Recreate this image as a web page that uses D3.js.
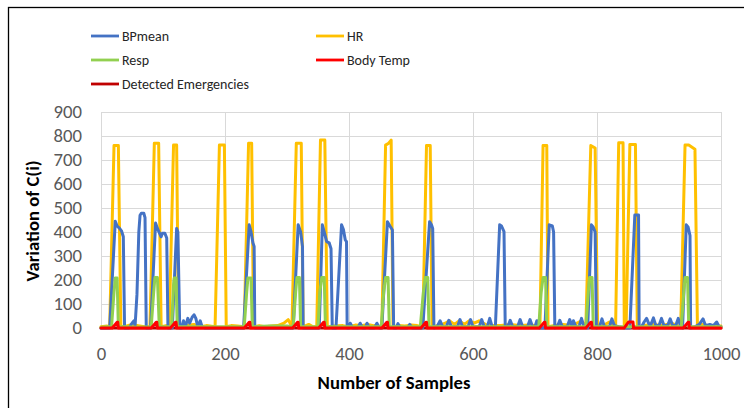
<!DOCTYPE html>
<html><head><meta charset="utf-8">
<script src="https://cdn.jsdelivr.net/npm/d3@7"></script>
<style>body{margin:0;background:#fff}svg{display:block}</style>
</head><body><svg id="c" width="744" height="408"></svg>
<script>
// ---- data: [sample, value] vertices ----
const seriesNames = ["BPmean","HR","Resp","Body Temp","Detected Emergencies"];
const xTicks = [0,200,400,600,800,1000];
const yTicks = [0,100,200,300,400,500,600,700,800,900];

const hr = [[0,5],[10,8],[14,5],[21,760],[28,760],[32,5],[40,8],[50,15],[60,10],[70,5],[79,5],[86,770],[93,770],[97,5],[105,10],[110,5],[117,762],[122,762],[125,5],[135,10],[150,15],[160,5],[170,10],[184,5],[191,762],[199,762],[202,5],[210,10],[220,8],[231,5],[238,770],[243,770],[246,5],[255,10],[265,5],[275,8],[285,10],[295,20],[302,35],[308,5],[315,770],[323,770],[326,5],[335,15],[342,5],[348,5],[354,783],[361,783],[365,5],[375,8],[390,10],[400,5],[410,12],[420,10],[430,15],[440,10],[453,5],[459,762],[464,770],[468,783],[471,5],[480,10],[490,8],[500,12],[510,10],[519,5],[525,760],[531,760],[534,5],[545,10],[555,20],[562,30],[570,15],[578,30],[586,15],[594,30],[602,20],[610,30],[620,15],[630,10],[645,10],[660,15],[675,10],[690,12],[700,10],[708,5],[713,760],[719,760],[721,5],[730,10],[745,15],[760,10],[775,30],[782,5],[790,760],[797,750],[801,5],[810,10],[820,25],[830,5],[835,772],[842,772],[844,5],[847,5],[853,765],[862,765],[865,5],[875,10],[890,15],[905,10],[920,20],[935,5],[942,762],[948,762],[958,745],[962,5],[970,15],[980,10],[990,5],[1000,8]];

const bp = [[0,0],[14,0],[23,445],[26,425],[30,415],[33,405],[36,380],[38,0],[45,0],[50,20],[53,30],[55,10],[58,140],[61,400],[63,470],[65,478],[69,478],[71,460],[73,0],[80,0],[88,437],[91,415],[97,380],[99,395],[103,395],[106,375],[108,0],[115,0],[122,415],[124,400],[127,0],[130,0],[133,30],[136,5],[140,40],[143,20],[147,45],[150,55],[153,40],[156,5],[160,30],[163,5],[168,0],[230,0],[239,430],[242,400],[245,355],[247,340],[248,0],[260,0],[310,0],[318,430],[322,400],[325,339],[326,0],[345,0],[352,0],[357,430],[360,400],[364,360],[368,355],[371,330],[373,0],[379,0],[388,430],[391,410],[394,367],[396,360],[397,0],[400,0],[402,20],[406,0],[414,0],[418,20],[422,0],[426,0],[429,20],[433,0],[441,0],[445,20],[449,0],[453,0],[462,443],[466,425],[470,408],[472,0],[476,0],[479,18],[483,0],[494,0],[498,15],[502,0],[519,0],[530,443],[533,430],[535,415],[537,0],[542,5],[547,30],[551,5],[557,5],[561,32],[565,5],[575,5],[579,35],[583,5],[592,5],[596,35],[600,5],[610,5],[614,35],[618,5],[623,5],[627,40],[631,5],[636,0],[643,430],[646,425],[650,402],[652,0],[656,5],[660,32],[664,5],[672,5],[676,35],[680,5],[688,5],[692,35],[696,5],[700,5],[703,30],[707,0],[716,0],[723,430],[728,425],[730,400],[732,0],[736,5],[740,32],[744,5],[752,5],[756,35],[760,5],[762,30],[766,5],[771,5],[775,40],[779,5],[785,0],[791,430],[794,420],[797,400],[799,0],[804,5],[808,38],[812,5],[820,5],[824,38],[828,10],[835,5],[845,0],[853,0],[861,471],[867,471],[868,0],[872,5],[876,25],[880,40],[884,15],[887,15],[891,42],[895,10],[900,10],[904,40],[908,10],[914,10],[918,38],[922,10],[927,10],[931,40],[935,5],[938,0],[944,430],[947,420],[950,385],[951,0],[958,5],[965,15],[971,38],[975,10],[982,15],[988,10],[993,25],[997,5],[1000,5]];

const resp = [[0,3],[10,5],[17,5],[21,150],[23,208],[26,208],[28,5],[40,5],[60,3],[81,5],[85,150],[87,210],[91,210],[94,5],[105,5],[114,5],[117,180],[118,208],[121,208],[123,5],[150,5],[200,5],[231,5],[235,150],[237,208],[242,208],[244,5],[270,8],[300,8],[310,5],[314,150],[316,210],[320,210],[322,5],[340,5],[350,5],[353,150],[356,210],[360,210],[362,5],[400,5],[452,5],[456,150],[459,210],[463,210],[465,5],[490,5],[515,5],[520,150],[523,210],[527,210],[529,5],[600,5],[706,5],[710,150],[713,210],[717,210],[719,5],[760,5],[782,5],[786,150],[788,210],[792,210],[794,5],[850,5],[936,5],[940,150],[942,210],[946,210],[948,5],[1000,5]];

const temp = [[0,0],[18,0],[22,12],[26,24],[27,24],[28,0],[81,0],[85,12],[89,24],[90,24],[91,0],[112,0],[116,12],[120,24],[121,24],[122,0],[231,0],[235,12],[239,24],[240,24],[241,0],[309,0],[313,12],[317,24],[318,24],[319,0],[351,0],[355,12],[359,24],[360,24],[361,0],[453,0],[457,12],[461,24],[462,24],[463,0],[516,0],[520,12],[524,24],[525,24],[526,0],[707,0],[711,12],[715,24],[716,24],[717,0],[782,0],[786,12],[790,24],[791,24],[792,0],[844,0],[848,15],[851,25],[858,25],[859,0],[939,0],[943,12],[947,24],[948,24],[949,0],[1000,0]];

const emerg = [[0,0],[1000,0]];

// ---- drawing ----
const svg = d3.select("#c");
svg.append("rect").attr("width",744).attr("height",408).attr("fill","#fff");
svg.append("rect").attr("x",8.5).attr("y",7.5).attr("width",800).attr("height",600)
  .attr("fill","none").attr("stroke","#000").attr("stroke-width",1.3);

const x = d3.scaleLinear().domain([0,1000]).range([101,721]);
const y = d3.scaleLinear().domain([0,900]).range([328,112]);
const font = "Carlito, Lato, 'Open Sans', sans-serif";

// gridlines
const g = svg.append("g");
g.selectAll("line.h").data(yTicks).join("line")
  .attr("x1",x(0)).attr("x2",x(1000)).attr("y1",d=>y(d)+0.5).attr("y2",d=>y(d)+0.5)
  .attr("stroke","#d9d9d9").attr("stroke-width",1);
g.selectAll("line.v").data(xTicks).join("line")
  .attr("y1",y(0)).attr("y2",y(900)).attr("x1",d=>x(d)+0.5).attr("x2",d=>x(d)+0.5)
  .attr("stroke","#d9d9d9").attr("stroke-width",1);

// axes (labels only)
const yAxis = d3.axisLeft(y).tickValues(yTicks).tickSize(0).tickPadding(19).tickFormat(d3.format("d"));
svg.append("g").attr("transform",`translate(${x(0)},0)`).call(yAxis)
  .call(a=>a.select(".domain").remove())
  .selectAll("text").attr("font-family",font).attr("font-size",18.7).attr("fill","#595959");
const xAxis = d3.axisBottom(x).tickValues(xTicks).tickSize(0).tickPadding(19).tickFormat(d3.format("d"));
svg.append("g").attr("transform",`translate(0,${y(0)})`).call(xAxis)
  .call(a=>a.select(".domain").remove())
  .selectAll("text").attr("font-family",font).attr("font-size",18.7).attr("fill","#595959");

// axis titles
svg.append("text").attr("transform",`translate(39,221) rotate(-90)`).attr("text-anchor","middle")
  .attr("font-family",font).attr("font-weight","bold").attr("font-size",18.7).attr("fill","#000")
  .text("Variation of C(i)");
svg.append("text").attr("x",394).attr("y",389).attr("text-anchor","middle")
  .attr("font-family",font).attr("font-weight","bold").attr("font-size",18.7).attr("fill","#000")
  .text("Number of Samples");

// lines
const colors = {"BPmean":"#4472C4","HR":"#FFC000","Resp":"#92D050","Body Temp":"#FF0000","Detected Emergencies":"#C00000"};
const line = d3.line().x(d=>x(d[0])).y(d=>y(d[1]));
const draw = [["Detected Emergencies",emerg],["HR",hr],["BPmean",bp],["Resp",resp],["Body Temp",temp]];
const lg = svg.append("g");
draw.forEach(([n,data])=>{
  lg.append("path").datum(data).attr("d",line).attr("fill","none")
    .attr("stroke",colors[n]).attr("stroke-width",3)
    .attr("stroke-linejoin","round").attr("stroke-linecap","round");
});

// legend
const legendPos = [["BPmean",91,36],["HR",316,36],["Resp",91,60],["Body Temp",316,60],["Detected Emergencies",91,84]];
const leg = svg.append("g");
legendPos.forEach(([n,lx,ly])=>{
  leg.append("line").attr("x1",lx).attr("x2",lx+28).attr("y1",ly).attr("y2",ly)
    .attr("stroke",colors[n]).attr("stroke-width",2.8);
  leg.append("text").attr("x",lx+31).attr("y",ly+5).attr("font-family",font)
    .attr("font-size",14).attr("fill","#262626").text(n);
});
</script></body></html>
